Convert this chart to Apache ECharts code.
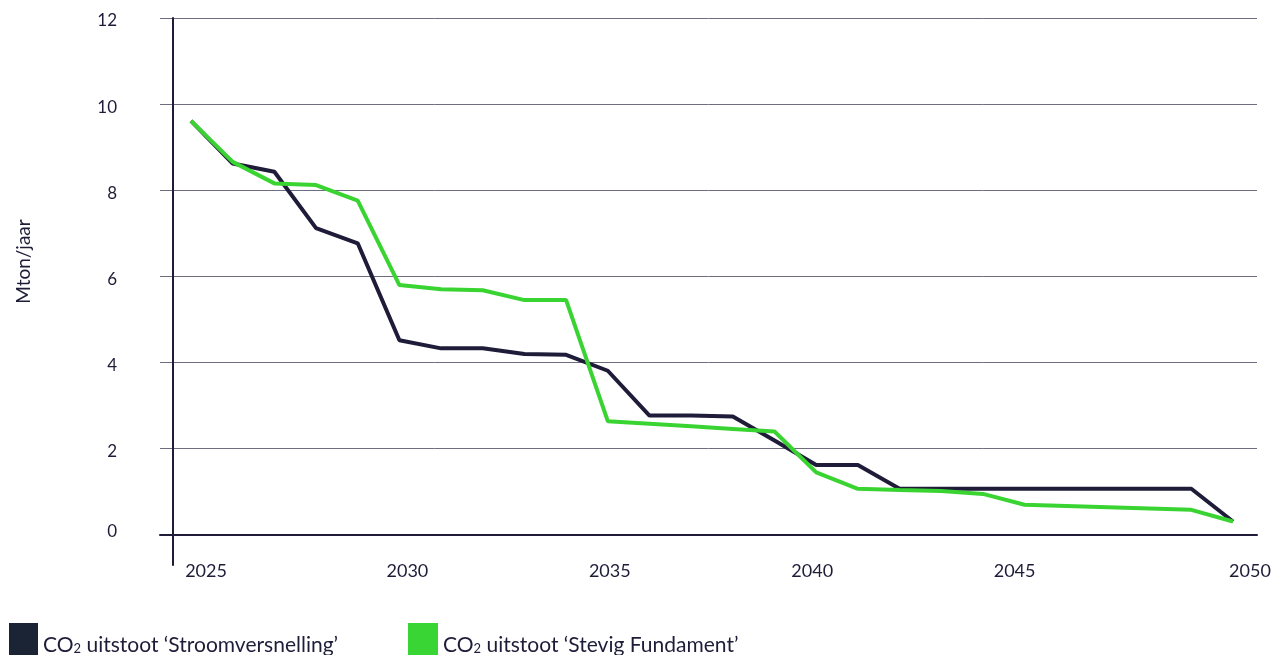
<!DOCTYPE html>
<html>
<head>
<meta charset="utf-8">
<script src="https://cdn.jsdelivr.net/npm/echarts@6/dist/echarts.min.js"></script>
<style>
  html, body { margin: 0; padding: 0; background: #fff; }
  #main { width: 1282px; height: 655px; }
</style>
</head>
<body>
<div id="main"></div>
<script>
// jaren en uitstoot (Mton/jaar)
const years = [2025, 2026, 2027, 2028, 2029, 2030, 2031, 2032, 2033, 2034, 2035, 2036, 2037,
  2038, 2039, 2040, 2041, 2042, 2043, 2044, 2045, 2046, 2047, 2048, 2049, 2050]
const stroomversnelling = [9.61, 8.62, 8.43, 7.12, 6.77, 4.52, 4.33, 4.33, 4.20, 4.18, 3.81, 2.77, 2.77,
  2.75, 2.19, 1.62, 1.62, 1.07, 1.07, 1.07, 1.07, 1.07, 1.07, 1.07, 1.07, 0.31]
const stevigFundament = [9.61, 8.66, 8.16, 8.12, 7.76, 5.80, 5.70, 5.68, 5.45, 5.45, 2.64, 2.58, 2.52,
  2.46, 2.40, 1.45, 1.07, 1.04, 1.02, 0.95, 0.70, 0.67, 0.64, 0.61, 0.58, 0.31]
const xTicks = [2025, 2030, 2035, 2040, 2045, 2050]
const yTicks = [0, 2, 4, 6, 8, 10, 12]
// verschuiving van de jaarlabels (px) t.o.v. het datapunt
const labelShift = [15, 8, 2, -4, -10, 17]

const names = ['CO2 uitstoot ‘Stroomversnelling’', 'CO2 uitstoot ‘Stevig Fundament’']
const dark = '#1e1c38'
const green = '#3ad432'
const font = 'Lato, "Noto Sans", sans-serif'

const rich = {}
xTicks.forEach((t, i) => {
  const s = labelShift[i]
  rich['y' + t] = {
    fontSize: 18, fontFamily: font, color: dark,
    padding: s >= 0 ? [0, 0, 0, 2 * s] : [0, -2 * s, 0, 0],
  }
})

const legendRich = {
  t: { fontSize: 21, fontFamily: font, color: dark, padding: [8, 0, 0, 0] },
  sub: { fontSize: 13, fontFamily: font, color: dark, padding: [16, 0, 0, 0] },
}
function legendFmt(name) {
  return `{t|CO}{sub|2}{t|${name.slice(3)}}`
}

const chart = echarts.init(document.getElementById('main'))
chart.setOption({
  animation: false,
  grid: { left: 160, right: 25, top: 18, bottom: 90 },
  legend: [
    {
      left: 9, top: 623, padding: 0, icon: 'rect', itemWidth: 29, itemHeight: 36,
      data: [{ name: names[0], itemStyle: { color: '#1b2435' } }],
      formatter: legendFmt,
      textStyle: { rich: legendRich },
    },
    {
      left: 408, top: 623, padding: 0, icon: 'rect', itemWidth: 30, itemHeight: 36,
      data: [{ name: names[1], itemStyle: { color: '#38d535' } }],
      formatter: legendFmt,
      textStyle: { rich: legendRich },
    },
  ],
  xAxis: {
    type: 'value',
    min: 2024.256,
    max: 2050.576,
    axisLine: { onZero: true, lineStyle: { color: dark, width: 2 } },
    axisTick: { show: false },
    splitLine: { show: false },
    axisLabel: {
      customValues: xTicks,
      margin: -3,
      formatter: v => `{y${v}|${v}}`,
      rich,
    },
  },
  yAxis: {
    type: 'value',
    min: -0.7,
    max: 12,
    offset: -13,
    name: 'Mton/jaar',
    nameLocation: 'middle',
    nameGap: 140,
    nameTextStyle: { fontSize: 19, fontFamily: font, color: dark, padding: [0, 0, 0, 60] },
    axisLine: { show: true, lineStyle: { color: dark, width: 2 } },
    axisTick: { show: false, customValues: yTicks },
    axisLabel: {
      customValues: yTicks,
      margin: 56,
      formatter: v => (v === 0 ? `{z|${v}}` : `{n|${v}}`),
      rich: {
        n: { fontSize: 17, fontFamily: font, color: dark, padding: [6, 0, 0, 0] },
        z: { fontSize: 17, fontFamily: font, color: dark, padding: [0, 0, 6, 0] },
      },
    },
    splitLine: { show: true, lineStyle: { color: '#6e6d80', width: 1 } },
  },
  series: [
    {
      name: names[0],
      type: 'line',
      symbol: 'none',
      lineStyle: { color: dark, width: 4 },
      itemStyle: { color: dark },
      data: years.map((y, i) => [y, stroomversnelling[i]]),
    },
    {
      name: names[1],
      type: 'line',
      symbol: 'none',
      lineStyle: { color: green, width: 4 },
      itemStyle: { color: green },
      data: years.map((y, i) => [y, stevigFundament[i]]),
    },
  ],
})
</script>
</body>
</html>
